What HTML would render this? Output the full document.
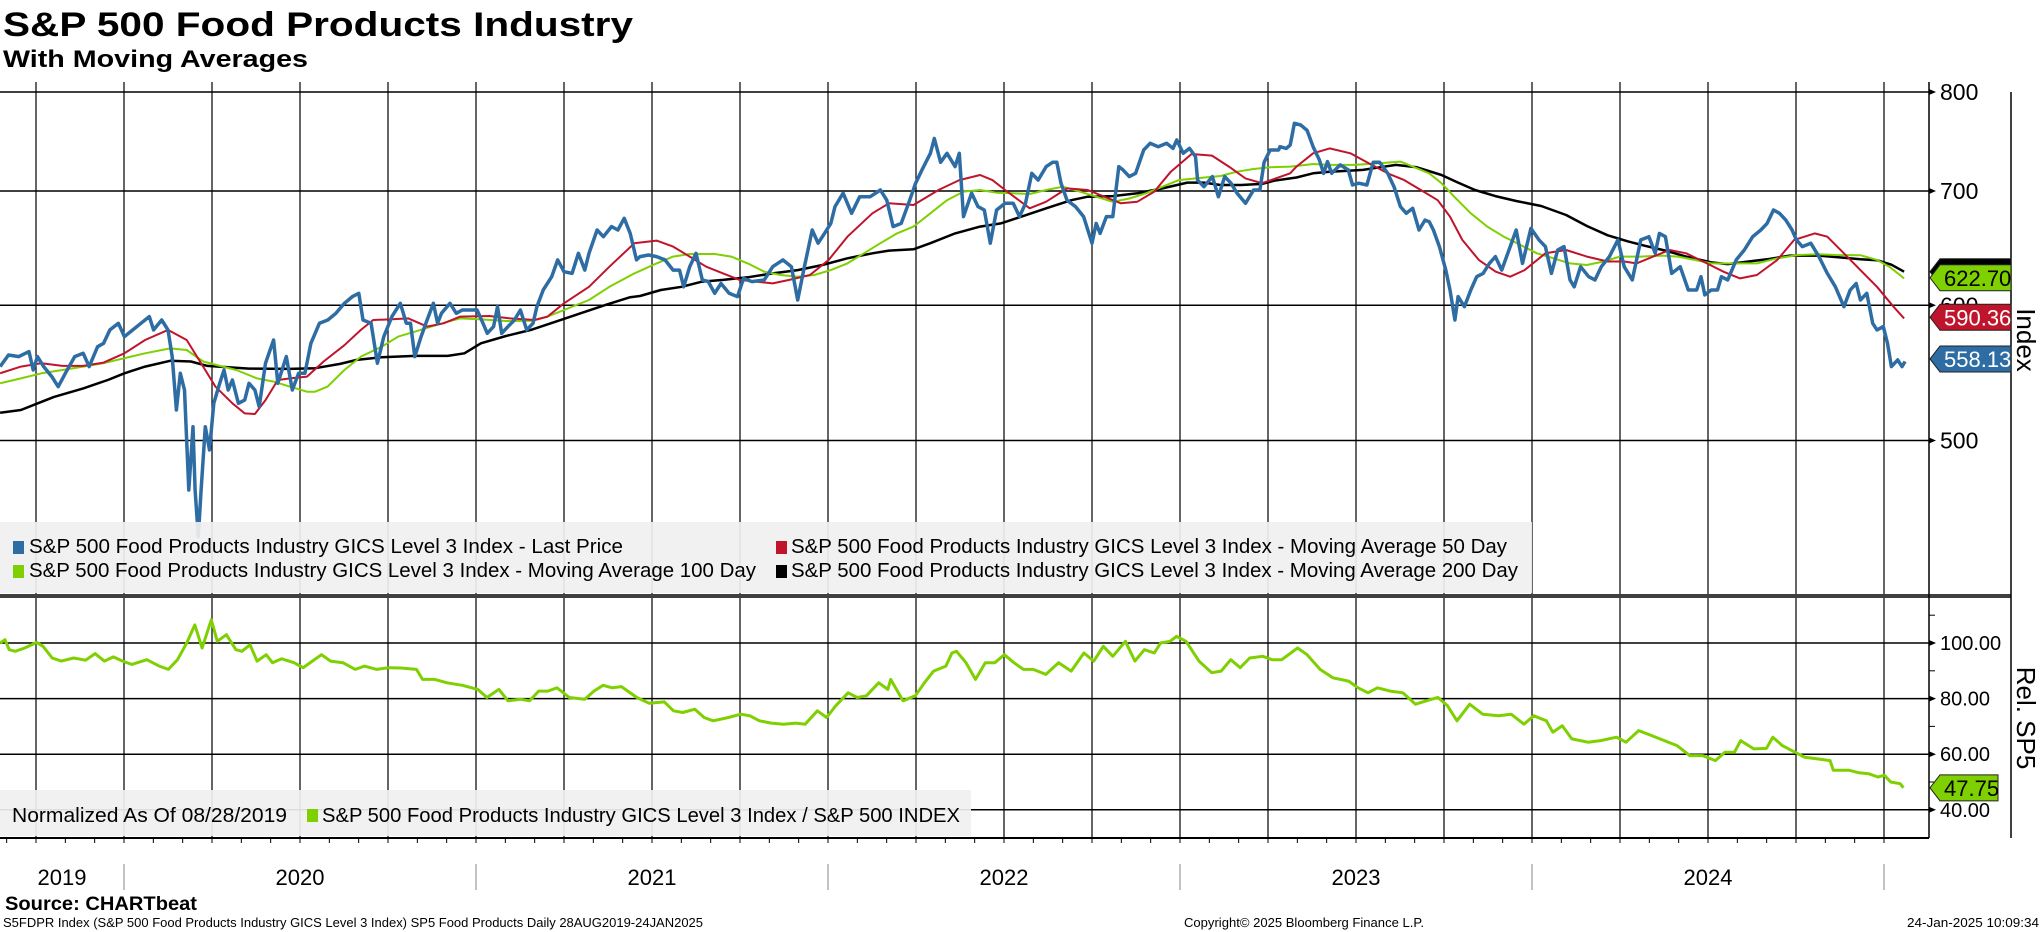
<!DOCTYPE html>
<html><head><meta charset="utf-8"><title>S&amp;P 500 Food Products Industry</title>
<style>
html,body{margin:0;padding:0;background:#fff;}
svg{display:block;font-family:"Liberation Sans",sans-serif;}
</style></head>
<body>
<svg id="chart" width="2041" height="932" viewBox="0 0 2041 932" xmlns="http://www.w3.org/2000/svg">
<defs>
<clipPath id="clipU"><rect x="0" y="82" width="1929" height="514"/></clipPath>
<clipPath id="clipL"><rect x="0" y="599" width="1929" height="239"/></clipPath>
</defs>
<text x="3" y="36" font-size="34" font-weight="bold" textLength="630" lengthAdjust="spacingAndGlyphs">S&amp;P 500 Food Products Industry</text>
<text x="3" y="67" font-size="24" font-weight="bold" textLength="305" lengthAdjust="spacingAndGlyphs">With Moving Averages</text>
<g id="grid"></g>
<g id="seriesU" clip-path="url(#clipU)"></g>
<g id="seriesL" clip-path="url(#clipL)"></g>
<rect x="0" y="594" width="2011" height="4" fill="#404040"/>
<g>
<rect x="0" y="522" width="1532" height="71" fill="#f0f0f0" fill-opacity="0.92"/>
<rect x="13" y="541" width="11" height="13" fill="#2e6ca4"/>
<text x="29" y="553" font-size="20" textLength="594" lengthAdjust="spacingAndGlyphs">S&amp;P 500 Food Products Industry GICS Level 3 Index - Last Price</text>
<rect x="13" y="565" width="11" height="13" fill="#7ed000"/>
<text x="29" y="577" font-size="20" textLength="727" lengthAdjust="spacingAndGlyphs">S&amp;P 500 Food Products Industry GICS Level 3 Index - Moving Average 100 Day</text>
<rect x="776" y="541" width="11" height="13" fill="#c0142c"/>
<text x="791" y="553" font-size="20" textLength="716" lengthAdjust="spacingAndGlyphs">S&amp;P 500 Food Products Industry GICS Level 3 Index - Moving Average 50 Day</text>
<rect x="776" y="565" width="11" height="13" fill="#000"/>
<text x="791" y="577" font-size="20" textLength="727" lengthAdjust="spacingAndGlyphs">S&amp;P 500 Food Products Industry GICS Level 3 Index - Moving Average 200 Day</text>
</g>
<g>
<rect x="0" y="790" width="971" height="46" fill="#f0f0f0" fill-opacity="0.92"/>
<text x="12" y="822" font-size="20" textLength="275" lengthAdjust="spacingAndGlyphs">Normalized As Of 08/28/2019</text>
<rect x="307" y="809" width="11" height="13" fill="#7ed000"/>
<text x="322" y="822" font-size="20" textLength="638" lengthAdjust="spacingAndGlyphs">S&amp;P 500 Food Products Industry GICS Level 3 Index / S&amp;P 500 INDEX</text>
</g>
<g id="axes"></g>
<text transform="translate(2017,340) rotate(90)" font-size="26" text-anchor="middle">Index</text>
<text transform="translate(2017,718) rotate(90)" font-size="26" text-anchor="middle">Rel. SP5</text>
<text x="5" y="910" font-size="19" font-weight="bold" textLength="192" lengthAdjust="spacingAndGlyphs">Source: CHARTbeat</text>
<text x="3" y="927" font-size="13" textLength="700" lengthAdjust="spacingAndGlyphs">S5FDPR Index (S&amp;P 500 Food Products Industry GICS Level 3 Index) SP5 Food Products  Daily 28AUG2019-24JAN2025</text>
<text x="1184" y="927" font-size="13" textLength="240" lengthAdjust="spacingAndGlyphs">Copyright© 2025 Bloomberg Finance L.P.</text>
<text x="1907" y="927" font-size="13" textLength="132" lengthAdjust="spacingAndGlyphs">24-Jan-2025 10:09:34</text>
</svg>
<script>
// ---- data ----
const priceT=[2019.648,2019.672,2019.701,2019.730,2019.742,2019.754,2019.772,2019.795,2019.813,2019.836,
2019.860,2019.884,2019.901,2019.925,2019.942,2019.960,2019.984,2020.001,2020.025,2020.048,
2020.072,2020.084,2020.107,2020.125,2020.137,2020.149,2020.160,2020.172,2020.184,2020.196,
2020.202,2020.211,2020.219,2020.231,2020.243,2020.255,2020.272,2020.284,2020.296,2020.308,
2020.325,2020.343,2020.355,2020.372,2020.384,2020.402,2020.425,2020.437,2020.461,2020.478,
2020.496,2020.514,2020.531,2020.555,2020.579,2020.602,2020.626,2020.649,2020.667,2020.679,
2020.702,2020.720,2020.738,2020.761,2020.785,2020.802,2020.814,2020.826,2020.844,2020.861,
2020.879,2020.891,2020.902,2020.926,2020.944,2020.961,2020.985,2021.003,2021.020,2021.032,
2021.050,2021.061,2021.073,2021.091,2021.109,2021.126,2021.144,2021.162,2021.173,2021.191,
2021.215,2021.232,2021.250,2021.273,2021.291,2021.309,2021.321,2021.344,2021.362,2021.385,
2021.403,2021.421,2021.438,2021.456,
2021.466,2021.490,2021.513,2021.537,2021.560,2021.578,2021.590,2021.607,2021.625,2021.643,
2021.660,2021.678,2021.696,2021.719,2021.743,2021.760,2021.784,2021.819,2021.843,2021.872,
2021.896,2021.914,2021.931,2021.955,2021.972,2021.990,2022.008,2022.020,2022.043,2022.067,
2022.090,2022.120,2022.149,2022.167,2022.185,2022.208,2022.232,2022.249,2022.267,2022.291,
2022.302,2022.320,2022.338,2022.361,2022.373,2022.385,2022.408,2022.426,2022.444,2022.461,
2022.479,2022.503,2022.526,2022.544,2022.561,2022.579,2022.597,2022.620,2022.638,2022.650,
2022.662,2022.679,2022.703,2022.726,2022.750,2022.762,2022.773,2022.791,2022.809,2022.826,
2022.838,2022.856,2022.874,2022.897,2022.915,2022.938,2022.962,2022.980,2022.991,2023.009,
2023.027,2023.044,2023.050,2023.068,2023.092,2023.109,2023.127,2023.145,2023.162,2023.186,
2023.209,2023.227,2023.239,2023.256,2023.280,
2023.284,2023.302,2023.313,2023.325,2023.343,2023.361,2023.378,2023.396,2023.408,2023.419,
2023.431,2023.455,2023.478,2023.490,2023.508,2023.531,2023.549,2023.567,2023.590,2023.608,
2023.626,2023.643,2023.661,2023.679,2023.696,2023.708,2023.720,2023.737,2023.755,2023.767,
2023.781,2023.790,2023.808,2023.826,2023.843,2023.861,2023.879,2023.896,2023.914,2023.938,
2023.955,2023.973,2023.997,2024.020,2024.038,2024.055,2024.073,2024.091,2024.108,2024.120,
2024.138,2024.161,2024.179,2024.197,2024.220,2024.244,2024.262,2024.285,2024.309,2024.332,
2024.350,2024.362,2024.379,2024.397,2024.421,2024.444,2024.468,2024.480,2024.491,2024.509,
2024.527,2024.538,2024.556,2024.580,2024.603,2024.627,2024.650,2024.668,2024.686,2024.703,
2024.721,2024.739,2024.751,2024.768,2024.792,2024.815,2024.839,2024.862,2024.886,2024.904,
2024.921,2024.933,2024.951,2024.968,2024.980,2024.998,2025.010,2025.021,2025.039,2025.051,
2025.060];
const priceV=[552.4,561.1,559.9,563.7,549.9,559.9,552.4,545.0,537.6,548.7,
559.9,562.4,552.4,567.4,570.0,580.4,585.6,575.2,580.4,585.6,
590.9,580.4,588.2,580.4,559.9,521.0,547.4,535.2,467.7,509.4,
467.7,439.2,467.7,509.4,493.6,525.7,540.1,549.9,535.2,542.5,
525.7,528.0,540.1,535.2,523.3,554.9,572.6,540.1,559.9,535.2,
547.4,547.4,570.0,585.6,588.2,593.6,601.6,607.1,609.8,588.2,
585.6,554.9,575.2,590.9,601.6,585.6,585.6,559.9,575.2,588.2,
601.6,585.6,593.6,601.6,593.6,596.2,596.2,596.2,585.6,577.8,
583.0,598.9,577.8,583.0,588.2,596.2,580.4,585.6,598.9,612.5,
623.6,637.9,627.8,626.4,643.6,629.2,643.6,664.1,658.2,667.2,
664.1,674.7,661.1,637.9,
640.7,642.1,640.7,637.9,629.2,629.2,615.2,632.1,643.6,620.9,
619.5,609.8,617.9,609.8,607.1,622.2,619.5,620.9,632.1,637.9,
632.1,604.3,629.2,664.1,652.4,661.1,670.1,685.4,698.0,679.3,
694.6,694.6,700.9,691.4,667.2,670.1,691.4,707.4,720.2,736.5,
751.5,727.6,736.5,723.4,736.5,676.2,698.0,685.4,682.3,652.4,
682.3,688.5,688.5,676.2,688.5,716.9,710.4,723.4,727.6,727.6,
707.4,691.4,685.4,676.2,652.4,670.1,661.1,676.2,676.2,723.4,
720.2,713.7,716.9,739.8,746.5,743.1,746.5,741.4,749.8,736.5,
741.4,733.2,710.4,704.1,713.7,694.6,713.7,707.4,698.0,688.5,
700.9,700.9,727.6,739.8,739.8,
743.1,741.4,744.8,766.9,765.2,759.6,743.1,729.9,716.9,728.3,
716.9,725.1,720.2,705.7,707.4,705.7,727.6,727.6,716.9,704.1,
685.4,679.3,683.9,664.1,673.1,671.6,664.1,649.4,629.2,612.5,
588.2,607.1,598.9,612.5,623.6,626.4,634.9,640.7,629.2,649.4,
664.1,634.9,665.6,655.3,649.4,626.4,646.5,649.4,620.9,615.2,
632.1,623.6,620.9,632.1,640.7,655.3,632.1,620.9,655.3,658.2,
643.6,661.1,658.2,626.4,632.1,612.5,612.5,623.6,608.5,612.5,
612.5,623.6,620.9,637.9,646.5,658.2,664.1,670.1,682.3,679.3,
673.1,664.1,655.3,649.4,652.4,640.7,626.4,615.2,598.9,612.5,
617.9,604.3,609.8,585.6,580.4,583.0,570.0,552.4,557.4,552.4,
556.2];
const ma50T=[2019.648,2019.707,2019.766,2019.825,2019.884,2019.942,2020.001,2020.060,2020.125,2020.178,2020.213,2020.260,2020.308,2020.343,2020.372,2020.402,2020.437,2020.472,2020.520,2020.567,2020.626,2020.673,2020.708,2020.755,2020.808,2020.861,2020.908,2020.955,2021.038,2021.097,2021.167,2021.203,2021.250,2021.321,2021.379,2021.450,
2021.513,2021.560,2021.607,2021.654,2021.702,2021.749,2021.796,2021.843,2021.890,2021.949,2022.002,2022.055,2022.126,2022.173,2022.243,2022.314,2022.373,2022.432,2022.467,2022.503,2022.573,2022.620,2022.679,2022.738,2022.785,2022.832,2022.879,2022.927,2022.974,2023.033,2023.091,2023.139,2023.186,2023.233,2023.313,
2023.331,2023.378,2023.425,2023.484,2023.531,2023.590,2023.637,2023.684,2023.732,2023.767,2023.802,2023.849,2023.897,2023.938,2023.979,2024.038,2024.097,2024.156,2024.215,2024.262,2024.297,2024.344,2024.391,2024.438,2024.497,2024.544,2024.591,2024.639,2024.697,2024.745,2024.803,2024.839,2024.886,2024.933,2024.980,2025.027,2025.057];
const ma50V=[547.4,552.4,554.9,552.9,552.9,555.4,562.4,572.6,580.4,572.6,557.4,537.6,525.7,518.6,518.2,528.0,542.5,543.7,545.0,556.2,568.6,580.4,588.2,588.7,589.5,583.0,585.6,590.9,591.4,589.5,588.2,590.9,601.6,615.2,632.1,652.4,
654.7,649.4,640.7,632.1,626.4,620.9,619.5,618.0,620.9,625.0,637.9,658.2,679.3,688.5,686.9,700.9,710.4,715.3,710.4,700.9,683.9,690.0,702.5,700.9,694.6,688.5,690.0,699.4,718.5,735.8,734.2,723.4,712.0,707.4,716.9,
723.4,736.5,741.4,736.5,727.6,716.9,710.4,700.9,691.4,676.2,655.3,637.9,627.8,623.6,629.2,643.6,646.5,640.7,636.5,636.5,634.9,640.7,646.5,643.6,634.9,627.8,622.2,625.0,637.9,655.3,661.1,658.2,643.6,629.2,615.2,598.9,589.5];
const ma100T=[2019.648,2019.707,2019.766,2019.825,2019.884,2019.942,2020.001,2020.060,2020.131,2020.178,2020.225,2020.272,2020.319,2020.378,2020.425,2020.472,2020.520,2020.543,2020.578,2020.626,2020.673,2020.732,2020.779,2020.826,2020.873,2020.920,2020.955,2021.014,2021.085,2021.156,2021.203,2021.250,2021.321,2021.379,2021.450,
2021.513,2021.560,2021.607,2021.678,2021.725,2021.772,2021.819,2021.866,2021.914,2021.961,2022.008,2022.055,2022.102,2022.149,2022.196,2022.243,2022.291,2022.338,2022.385,2022.432,2022.479,2022.526,2022.573,2022.620,2022.667,2022.715,2022.762,2022.809,2022.856,2022.903,2022.950,2022.997,2023.044,2023.115,2023.162,2023.209,2023.256,2023.313,
2023.331,2023.378,2023.425,2023.496,2023.567,2023.626,2023.661,2023.708,2023.743,2023.779,2023.826,2023.873,2023.920,2023.967,2024.014,2024.061,2024.108,2024.156,2024.203,2024.250,2024.309,2024.368,2024.415,2024.462,2024.509,2024.568,2024.639,2024.697,2024.756,2024.815,2024.862,2024.933,2024.980,2025.015,2025.057];
const ma100V=[540.1,543.7,547.4,549.9,552.4,554.9,558.7,562.4,566.1,564.9,556.2,552.9,549.9,543.7,541.3,537.6,534.0,534.0,537.6,549.9,559.9,567.4,575.2,579.0,583.0,586.9,589.5,588.7,587.4,587.7,590.9,596.2,604.3,615.2,626.4,
634.9,640.7,643.0,643.0,640.7,634.9,627.8,625.0,623.6,625.0,629.2,634.9,643.6,652.4,661.1,667.2,679.3,691.4,699.4,700.9,698.4,697.8,697.2,700.9,704.1,699.4,694.6,689.9,693.0,697.8,704.1,710.4,712.0,714.3,718.5,721.1,722.7,723.4,
724.0,726.0,725.1,725.1,726.6,728.3,723.4,716.9,707.4,694.6,679.3,667.2,658.2,650.9,643.6,639.3,634.9,633.5,636.5,640.7,640.7,641.6,640.7,637.9,634.9,634.9,634.9,639.3,642.1,642.7,642.1,641.9,637.9,632.1,622.2];
const ma200T=[2019.648,2019.707,2019.766,2019.801,2019.884,2019.954,2020.001,2020.060,2020.131,2020.190,2020.237,2020.296,2020.355,2020.472,2020.543,2020.614,2020.661,2020.732,2020.826,2020.920,2020.967,2021.014,2021.085,2021.156,2021.226,2021.297,2021.368,2021.438,
2021.466,2021.525,2021.584,2021.643,2021.702,2021.772,2021.843,2021.914,2021.984,2022.055,2022.126,2022.173,2022.243,2022.291,2022.361,2022.432,2022.491,2022.550,2022.620,2022.691,2022.738,2022.809,2022.879,2022.950,2023.021,2023.068,2023.115,2023.174,2023.233,2023.268,2023.313,
2023.331,2023.378,2023.425,2023.472,2023.520,2023.567,2023.614,2023.673,2023.743,2023.790,2023.838,2023.896,2023.955,2024.026,2024.097,2024.156,2024.215,2024.273,2024.321,2024.379,2024.438,2024.509,2024.556,2024.615,2024.674,2024.733,2024.815,2024.874,2024.933,2024.980,2025.021,2025.057];
const ma200V=[519.1,521.0,526.8,530.3,536.4,542.5,547.4,552.4,556.7,556.2,552.9,551.9,550.9,550.7,551.2,554.4,557.4,559.4,560.4,560.4,562.4,570.0,575.7,580.4,586.9,593.6,600.3,606.6,
607.6,612.5,615.2,619.5,620.9,623.1,626.4,629.2,633.5,639.3,643.6,645.9,647.1,652.4,661.1,667.2,670.1,676.2,683.9,691.4,694.6,695.2,697.8,702.5,708.0,708.0,705.7,705.7,706.7,709.8,712.0,
712.9,716.9,718.5,719.2,720.2,722.7,725.1,722.7,715.3,708.0,700.9,695.2,690.6,686.0,677.7,667.7,659.4,654.0,650.1,645.9,640.7,635.7,634.3,636.5,638.7,641.6,641.6,640.0,638.4,637.6,633.8,627.8];
const relT=[2019.648,2019.662,2019.674,2019.691,2019.718,2019.752,2019.770,2019.796,2019.822,2019.857,2019.891,2019.918,2019.944,2019.970,2019.996,2020.022,2020.065,2020.100,2020.126,2020.152,2020.178,2020.201,2020.222,2020.248,2020.265,2020.291,2020.318,2020.335,2020.358,2020.378,2020.404,2020.422,2020.448,2020.483,2020.509,2020.535,2020.561,2020.587,2020.622,2020.657,2020.683,2020.718,2020.752,2020.787,2020.831,2020.848,2020.883,2020.918,2020.961,2021.005,2021.031,2021.065,2021.091,2021.126,2021.152,2021.178,2021.204,2021.230,2021.265,2021.309,2021.335,2021.361,2021.387,2021.413,2021.457,2021.492,2021.535,2021.561,2021.587,2021.622,2021.648,2021.674,2021.717,2021.752,2021.778,2021.805,2021.839,2021.874,2021.909,2021.935,2021.970,2021.996,2022.022,2022.057,2022.083,2022.109,2022.144,2022.170,2022.178,2022.213,2022.248,2022.274,2022.300,2022.335,2022.352,
2022.365,2022.392,2022.419,2022.447,2022.474,2022.501,2022.528,2022.555,2022.583,2022.619,2022.655,2022.691,2022.727,2022.755,2022.782,2022.809,2022.845,2022.872,2022.899,2022.927,2022.945,2022.972,2022.990,2023.017,2023.054,2023.090,2023.117,2023.144,2023.171,2023.198,2023.235,2023.262,2023.289,2023.334,2023.361,2023.398,2023.434,2023.479,2023.506,2023.534,2023.561,2023.597,2023.633,2023.669,2023.715,2023.733,2023.760,2023.787,2023.823,2023.860,2023.905,2023.941,2023.977,2024.005,2024.041,2024.059,2024.086,2024.113,2024.159,2024.195,2024.240,2024.267,2024.303,2024.340,2024.376,2024.412,2024.448,2024.485,2024.521,2024.548,2024.575,2024.593,2024.630,2024.666,2024.684,2024.711,2024.738,2024.775,2024.811,2024.847,2024.856,2024.901,2024.929,2024.956,2024.983,2025.001,2025.019,2025.046,2025.055];
const relV=[100,101.2,97.6,97.0,98.2,100.2,98.8,94.6,93.5,94.6,93.8,96.2,93.5,95.0,93.5,92.3,94.0,91.7,90.5,94.0,100,106.5,98.2,108.3,100.6,103.0,97.6,97.0,99.4,93.5,95.8,92.9,94.3,92.9,91.1,93.5,95.8,93.5,92.9,90.5,91.7,90.5,91.1,91.0,90.5,86.9,86.9,85.7,84.8,83.3,80.4,83.3,79.2,79.8,79.2,82.7,82.7,83.9,80.4,79.8,82.7,84.8,83.9,84.3,80.4,78.3,78.8,75.6,75.0,76.2,73.2,72.0,73.2,74.4,73.8,72.0,71.2,70.8,71.2,70.8,75.6,73.2,77.4,82.1,80.4,81.0,85.7,83.3,86.9,79.2,81.0,85.7,89.9,91.7,96.4,
97.0,92.9,86.9,92.9,92.9,95.8,92.9,90.5,90.5,88.7,92.9,89.9,96.4,93.5,98.8,95.2,100.6,93.5,97.6,96.4,100,100.6,102.4,100.6,93.5,89.3,89.9,94.0,91.1,94.6,95.2,94.0,94.0,98.2,95.8,90.5,87.5,86.3,83.9,82.1,83.9,82.7,82.1,78.0,79.8,80.4,77.4,72.0,78.0,74.4,73.8,74.4,70.8,73.8,72.0,67.9,70.2,65.5,64.3,64.9,66.1,64.3,68.5,66.7,64.9,63.1,59.5,59.5,57.7,60.7,60.7,64.9,61.9,62.1,66.1,63.1,61.3,58.9,58.3,57.7,54.2,54.2,53.3,53.0,51.8,52.4,50.0,49.4,47.9];
const upperTicks=[800,700,600,500];
const lowerTicks=[100,80,60,40];
const lowerTickLabels=["100.00","80.00","60.00","40.00"];
const yearLabels=["2019","2020","2021","2022","2023","2024"];
const yearStarts=[2019.648,2020,2021,2022,2023,2024,2025];
const lastLabels=["622.70","590.36","558.13"];
const relLastLabel="47.75";

// ---- scales ----
const xS=t=>124+(t-2020)*352;
const yU=v=>191-741.5*Math.log(v/700);
const yL=v=>643+(100-v)*2.78;
const NS="http://www.w3.org/2000/svg";
function mk(tag,attrs,parent){const e=document.createElementNS(NS,tag);for(const k in attrs)e.setAttribute(k,attrs[k]);parent.appendChild(e);return e;}
const grid=document.getElementById('grid'),axes=document.getElementById('axes');
const sU=document.getElementById('seriesU'),sL=document.getElementById('seriesL');

// gridlines
for(let y=2019;y<=2025;y++){for(let q=0;q<4;q++){const t=y+q*0.25;if(t<2019.7||t>2025.01)continue;
 const l=mk('line',{x1:xS(t),x2:xS(t),y1:82,y2:838,stroke:'#000','stroke-width':1.2},grid);
 
 }}
upperTicks.forEach(v=>{const l=mk('line',{x1:0,x2:1929,y1:yU(v),y2:yU(v),stroke:'#000','stroke-width':1.5},grid);
 
 });
lowerTicks.forEach(v=>{const l=mk('line',{x1:0,x2:1929,y1:yL(v),y2:yL(v),stroke:'#000','stroke-width':1.5},grid);
 
 });

function path(T,V,ys,parent,color,w,name){let d='';for(let i=0;i<T.length;i++)d+=(i?'L':'M')+xS(T[i]).toFixed(1)+','+ys(V[i]).toFixed(1);
 const p=mk('path',{d:d,fill:'none',stroke:color,'stroke-width':w,'stroke-linejoin':'round'},parent);
 
 }
path(ma200T,ma200V,yU,sU,'#000',2.5,'ma200-line');
path(ma100T,ma100V,yU,sU,'#7ed000',2,'ma100-line');
path(ma50T,ma50V,yU,sU,'#c0142c',2,'ma50-line');
path(priceT,priceV,yU,sU,'#2e6ca4',3.5,'last-price-line');
path(relT,relV,yL,sL,'#7ed000',3,'relative-line');

// axes
mk('line',{x1:1929,x2:1929,y1:82,y2:838,stroke:'#000','stroke-width':1.5},axes);
mk('line',{x1:2011,x2:2011,y1:92,y2:838,stroke:'#000','stroke-width':1.5},axes);
mk('line',{x1:0,x2:1929,y1:838,y2:838,stroke:'#000','stroke-width':2},axes);
for(let m=0;m<66;m++){const t=2019+8/12+m/12;if(t>2025.06)break;const x=xS(t);
 const l=mk('line',{x1:x,x2:x,y1:838,y2:843,stroke:'#000','stroke-width':1},axes);
 
 }
upperTicks.forEach(v=>{const y=yU(v);
 mk('path',{d:`M1929,${y-3}L1936,${y}L1929,${y+3}Z`,fill:'#000'},axes);
 const t=mk('text',{x:1940,y:y+8,'font-size':23},axes);t.textContent=v;
 
 });
lowerTicks.forEach((v,i)=>{const y=yL(v);
 mk('path',{d:`M1929,${y-3}L1936,${y}L1929,${y+3}Z`,fill:'#000'},axes);
 mk('line',{x1:1929,x2:1935,y1:yL(v+10),y2:yL(v+10),stroke:'#000'},axes);
 const t=mk('text',{x:1940,y:y+7,'font-size':20},axes);t.textContent=lowerTickLabels[i];
 
 });
yearStarts.forEach((t,i)=>{if(i>0){const x=xS(t);const l=mk('line',{x1:x,x2:x,y1:864,y2:890,stroke:'#888','stroke-width':1},axes);
 
 }
 if(i<yearLabels.length){const xa=i===0?0:xS(t),xb=xS(yearStarts[i+1]);
 const tx=mk('text',{x:(xa+xb)/2,y:885,'font-size':22,'text-anchor':'middle'},axes);tx.textContent=yearLabels[i];
 
 }});

// value tags
function tag(v,ys,fill,txtColor,label,right,name){const y=ys(v);
 const g=mk('g',{},axes);
 
 
 mk('path',{d:`M1930,${y}L1940,${y-13}L${right},${y-13}L${right},${y+13}L1940,${y+13}Z`,fill:fill,stroke:'#222','stroke-width':1},g);
 const t=mk('text',{x:1944,y:y+8,'font-size':22,fill:txtColor},g);t.textContent=label;}
tag(ma200V[ma200V.length-1],yU,'#000','#000','','2011','ma200-value-tag');
tag(ma100V[ma100V.length-1]+0.5,yU,'#7ed000','#000',lastLabels[0],'2011','ma100-value-tag');
tag(ma50V[ma50V.length-1]+0.9,yU,'#c0142c','#fff',lastLabels[1],'2011','ma50-value-tag');
tag(priceV[priceV.length-1]+1.9,yU,'#2e6ca4','#fff',lastLabels[2],'2011','last-price-value-tag');
tag(relV[relV.length-1],yL,'#7ed000','#000',relLastLabel,'1998','relative-value-tag');
</script>
</body></html>
